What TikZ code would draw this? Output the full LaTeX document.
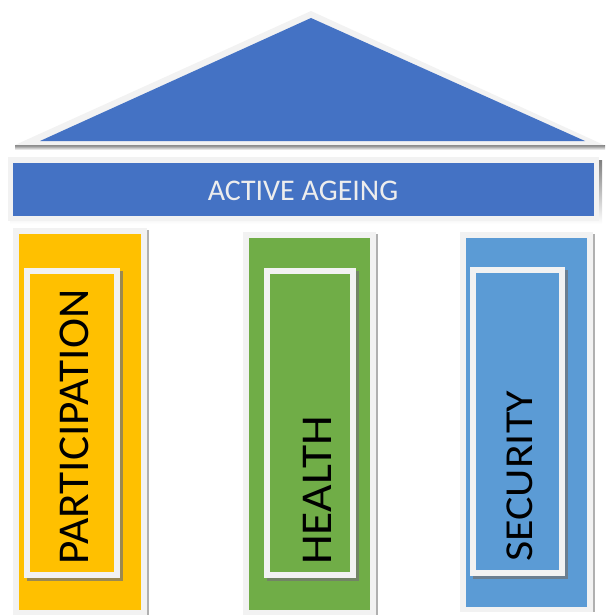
\documentclass[tikz,border=0pt]{standalone}
\usepackage{fontspec}
\setmainfont{Carlito}
\definecolor{roofblue}{HTML}{4472C4}
\definecolor{frame}{HTML}{F2F2F2}
\definecolor{shade}{HTML}{8C9AB3}
\definecolor{pgray}{HTML}{B0B0B0}
\definecolor{gold}{HTML}{FFC000}
\definecolor{leaf}{HTML}{70AD47}
\definecolor{sky}{HTML}{5B9BD5}
\definecolor{capt}{HTML}{EDEDED}
\tikzset{
  pillartext/.style={rotate=90, anchor=west, inner sep=0pt, text=black,
    font=\fontsize{44}{44}\selectfont},
}
% pillar: #1 left, #2 top, #3 right, #4 bottom, #5 colour
\newcommand\pillar[5]{%
  \fill[pgray] (#1+2,#2+2) rectangle (#3+2,#4);
  \fill[frame] (#1,#2) rectangle (#3,#4);
  \fill[#5] (#1+6,#2+6) rectangle (#3-6,#4-5);
}
% inner framed panel: #1 left, #2 top, #3 right, #4 bottom, #5 colour
\newcommand\panel[5]{%
  \fill[black!55,opacity=0.7] (#1+3,#2+3) rectangle (#3+3,#4+3);
  \fill[frame] (#1,#2) rectangle (#3,#4);
  \fill[#5] (#1+6,#2+6) rectangle (#3-6,#4-6);
}
\begin{document}
\begin{tikzpicture}[x=1pt,y=-1pt]
\useasboundingbox (0,0) rectangle (605,615);
% roof
\fill[shade] (15,145) -- (605,145) -- (605,150) -- (15,150) -- cycle;
\fill[frame] (311,11) -- (604,145) -- (15,145) -- cycle;
\fill[roofblue] (311,18) -- (585,141) -- (40,141) -- cycle;
% banner
\fill[shade] (10,160) rectangle (602,224);
\fill[frame] (8,157) rectangle (599,221);
\fill[roofblue] (13,163) rectangle (594,216);
\node[text=capt, font=\fontsize{30}{30}\selectfont] (title) at (303,191) {ACTIVE AGEING};
% pillars
\pillar{13}{228}{147}{615}{gold}
\panel{24}{268}{120}{578}{gold}
\node[pillartext] (participation) at (74,565) {\scalebox{1.03}[1]{PARTICIPATION}};
\pillar{243}{232}{376}{615}{leaf}
\panel{264}{268}{356}{578}{leaf}
\node[pillartext] (health) at (317.5,565) {\scalebox{1.08}[1]{HEALTH}};
\pillar{460}{232}{593}{612}{sky}
\panel{470}{267}{565}{576}{sky}
\node[pillartext] (security) at (519.5,562) {\scalebox{1.0}[0.9]{SECURITY}};
\end{tikzpicture}
\end{document}
